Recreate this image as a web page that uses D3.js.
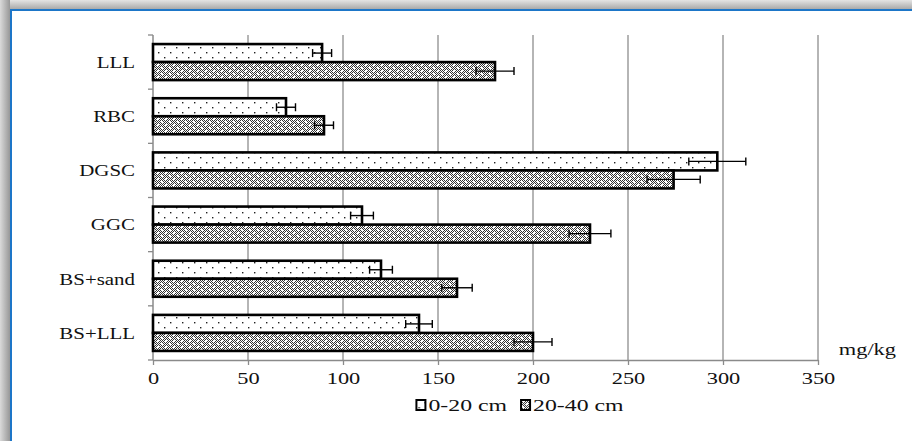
<!DOCTYPE html>
<html>
<head>
<meta charset="utf-8">
<script src="https://cdn.jsdelivr.net/npm/d3@7"></script>
<style>
  body { margin: 0; background: #fff; }
  svg text { font-family: 'Liberation Serif', 'DejaVu Serif', serif; fill: #111; }
</style>
</head>
<body>
<svg id="chart" width="912" height="441"></svg>
<script>
const categories = ['LLL', 'RBC', 'DGSC', 'GGC', 'BS+sand', 'BS+LLL']
const seriesNames = ['0-20 cm', '20-40 cm']
const values020 = [89, 70, 297, 110, 120, 140]
const errors020 = [5, 5, 15, 6, 6, 7]
const values2040 = [180, 90, 274, 230, 160, 200]
const errors2040 = [10, 5, 14, 11, 8, 10]
const xTicks = [0, 50, 100, 150, 200, 250, 300, 350]
const unitLabel = 'mg/kg'

const serif = "'Liberation Serif', 'DejaVu Serif', serif"
// the picture is stretched sideways, so text is widened to match
const stretch = 1.4

let svg = d3.select('#chart')
let defs = svg.append('defs')

// frame shadow gradients
let gTop = defs.append('linearGradient').attr('id', 'shadeTop')
  .attr('x1', 0).attr('y1', 0).attr('x2', 0).attr('y2', 1)
gTop.append('stop').attr('offset', '0%').attr('stop-color', '#e4e4e4')
gTop.append('stop').attr('offset', '100%').attr('stop-color', '#a9a9a9')
let gLeft = defs.append('linearGradient').attr('id', 'shadeLeft')
  .attr('x1', 0).attr('y1', 0).attr('x2', 1).attr('y2', 0)
gLeft.append('stop').attr('offset', '0%').attr('stop-color', '#dadada')
gLeft.append('stop').attr('offset', '100%').attr('stop-color', '#979797')

// dotted fill for 0-20 cm
let dots = defs.append('pattern').attr('id', 'dots')
  .attr('patternUnits', 'userSpaceOnUse').attr('width', 12).attr('height', 10)
dots.append('rect').attr('width', 12).attr('height', 10).attr('fill', '#fff')
dots.append('rect').attr('x', 2).attr('y', 2).attr('width', 1.4).attr('height', 1.4).attr('fill', '#222')
dots.append('rect').attr('x', 8).attr('y', 7).attr('width', 1.4).attr('height', 1.4).attr('fill', '#222')

// checkered fill with white specks for 20-40 cm
let checker = defs.append('pattern').attr('id', 'checker')
  .attr('patternUnits', 'userSpaceOnUse').attr('width', 8).attr('height', 6)
checker.append('rect').attr('width', 8).attr('height', 6).attr('fill', '#fff')
for (let i = 0; i < 8; i++) {
  for (let j = 0; j < 6; j++) {
    if ((i + j) % 2 === 0) {
      checker.append('rect').attr('x', i).attr('y', j).attr('width', 1).attr('height', 1).attr('fill', '#333')
    }
  }
}
checker.append('rect').attr('x', 1).attr('y', 1).attr('width', 2).attr('height', 2).attr('fill', '#fff')
checker.append('rect').attr('x', 5).attr('y', 4).attr('width', 2).attr('height', 2).attr('fill', '#fff')

const fills = ['url(#dots)', 'url(#checker)']

// frame
svg.append('rect').attr('x', 0).attr('y', 0).attr('width', 912).attr('height', 9).attr('fill', 'url(#shadeTop)')
svg.append('rect').attr('x', 0).attr('y', 0).attr('width', 10).attr('height', 441).attr('fill', 'url(#shadeLeft)')
svg.append('rect').attr('x', 10).attr('y', 9).attr('width', 902).attr('height', 2).attr('fill', '#1d76c8')
svg.append('rect').attr('x', 10).attr('y', 9).attr('width', 2).attr('height', 432).attr('fill', '#1d76c8')

let x = d3.scaleLinear()
  .domain([0, 350])
  .range([153, 818])

let y = d3.scaleBand()
  .domain(categories)
  .range([35, 360])
  .paddingInner(0.335)
  .paddingOuter(0.1675)

let sub = d3.scaleBand()
  .domain(seriesNames)
  .range([0, y.bandwidth()])

// vertical gridlines
svg.append('g').selectAll('line')
  .data(xTicks.filter(d => d > 0))
  .enter()
  .append('line')
  .attr('x1', d => x(d)).attr('x2', d => x(d))
  .attr('y1', y.range()[0]).attr('y2', y.range()[1])
  .attr('stroke', '#a3a3a3')
  .attr('stroke-width', 1.6)

// bottom axis
let xAxis = svg.append('g')
  .attr('transform', `translate(0,${y.range()[1]})`)
  .call(d3.axisBottom(x).tickValues(xTicks).tickSize(5).tickSizeOuter(0).tickPadding(8))
xAxis.attr('font-family', null).attr('font-size', null)
xAxis.select('.domain').attr('stroke', '#8a8a8a').attr('stroke-width', 1.5)
xAxis.selectAll('.tick line').attr('stroke', '#8a8a8a').attr('stroke-width', 1.3)
xAxis.selectAll('.tick text')
  .style('font-family', serif)
  .style('font-size', '16px')
  .attr('transform', `scale(${stretch},1)`)
  .attr('fill', '#111')

// left axis with ticks between categories
let yAxis = svg.append('g')
yAxis.append('line')
  .attr('x1', x(0)).attr('x2', x(0))
  .attr('y1', y.range()[0]).attr('y2', y.range()[1])
  .attr('stroke', '#8a8a8a').attr('stroke-width', 1.5)
yAxis.selectAll('.ytick')
  .data(d3.range(categories.length + 1))
  .enter()
  .append('line')
  .classed('ytick', true)
  .attr('x1', x(0) - 5).attr('x2', x(0))
  .attr('y1', i => y.range()[0] + i * y.step())
  .attr('y2', i => y.range()[0] + i * y.step())
  .attr('stroke', '#8a8a8a').attr('stroke-width', 1.3)

yAxis.selectAll('.ylabel')
  .data(categories)
  .enter()
  .append('text')
  .classed('ylabel', true)
  .text(d => d)
  .attr('text-anchor', 'end')
  .attr('dominant-baseline', 'central')
  .attr('transform', d => `translate(135,${y(d) + y.bandwidth() / 2}) scale(1.23,1)`)
  .style('font-family', serif)
  .style('font-size', '17px')

// bars
let rows = categories.map((c, i) => [
  {cat: c, s: seriesNames[0], v: values020[i], e: errors020[i], k: 0},
  {cat: c, s: seriesNames[1], v: values2040[i], e: errors2040[i], k: 1}
]).flat()

svg.append('g').selectAll('rect')
  .data(rows)
  .enter()
  .append('rect')
  .attr('x', x(0))
  .attr('y', d => y(d.cat) + sub(d.s))
  .attr('width', d => x(d.v) - x(0))
  .attr('height', sub.bandwidth())
  .attr('fill', d => fills[d.k])
  .attr('stroke', '#000')
  .attr('stroke-width', 2.6)

// error bars
let err = svg.append('g').selectAll('g')
  .data(rows)
  .enter()
  .append('g')
  .attr('transform', d => `translate(0,${y(d.cat) + sub(d.s) + sub.bandwidth() / 2})`)
err.append('line')
  .attr('x1', d => x(d.v - d.e)).attr('x2', d => x(d.v + d.e))
  .attr('y1', 0).attr('y2', 0)
  .attr('stroke', '#000').attr('stroke-width', 1.4)
err.append('line')
  .attr('x1', d => x(d.v - d.e)).attr('x2', d => x(d.v - d.e))
  .attr('y1', -4).attr('y2', 4)
  .attr('stroke', '#000').attr('stroke-width', 1.4)
err.append('line')
  .attr('x1', d => x(d.v + d.e)).attr('x2', d => x(d.v + d.e))
  .attr('y1', -4).attr('y2', 4)
  .attr('stroke', '#000').attr('stroke-width', 1.4)

// unit label
svg.append('text')
  .text(unitLabel)
  .attr('text-anchor', 'end')
  .attr('transform', `translate(896,355) scale(${stretch},1)`)
  .style('font-family', serif)
  .style('font-size', '16px')

// legend
let legend = svg.append('g')
let lx = 0
seriesNames.forEach((name, k) => {
  let item = legend.append('g').attr('transform', `translate(${lx},0)`)
  item.append('rect')
    .attr('x', 0).attr('y', -5).attr('width', 9).attr('height', 10)
    .attr('fill', fills[k]).attr('stroke', '#000').attr('stroke-width', 2)
  let t = item.append('text')
    .text(name)
    .attr('dominant-baseline', 'central')
    .attr('transform', `translate(12,0) scale(${stretch},1)`)
    .style('font-family', serif)
    .style('font-size', '17px')
  lx += 12 + t.node().getComputedTextLength() * stretch + 14
})
let lw = lx - 14
legend.attr('transform', `translate(${520 - lw / 2},405)`)
</script>
</body>
</html>
